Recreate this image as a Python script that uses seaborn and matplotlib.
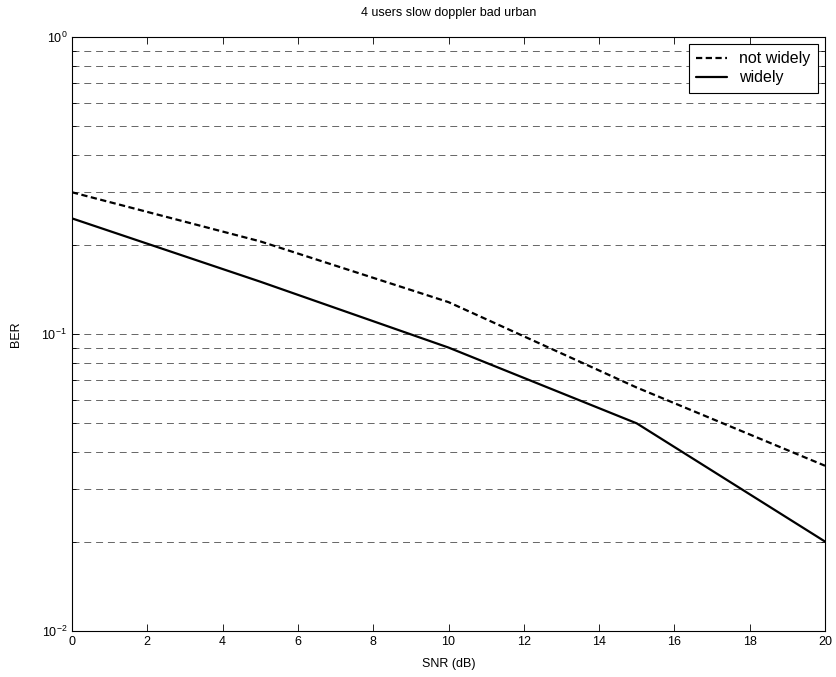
import numpy as np
import pandas as pd
import matplotlib
matplotlib.use("Agg")
import matplotlib.pyplot as plt
import seaborn as sns
from matplotlib.ticker import LogLocator, NullLocator, MultipleLocator

# Data (BER vs SNR)
snr_db = [0, 5, 10, 15, 20]
ber_not_widely = [0.30, 0.205, 0.128, 0.066, 0.036]
ber_widely = [0.245, 0.15, 0.09, 0.05, 0.02]

sns.set_style("ticks")
plt.rcParams['font.family'] = ['Liberation Sans', 'DejaVu Sans']
plt.rcParams['lines.scale_dashes'] = False
plt.rcParams['axes.unicode_minus'] = False
plt.rcParams['text.color'] = 'black'
plt.rcParams['axes.labelcolor'] = 'black'

fig = plt.figure(figsize=(8.37, 6.77), dpi=100)
ax = fig.add_axes([0.086, 0.068, 0.8997, 0.8774])

sns.lineplot(x=snr_db, y=ber_not_widely, ax=ax, color='black', lw=1.6,
             linestyle=(0, (4.5, 2.5)), label='not widely')
sns.lineplot(x=snr_db, y=ber_widely, ax=ax, color='black', lw=1.6,
             label='widely')

ax.set_yscale('log')
ax.set_xlim(0, 20)
ax.set_ylim(1e-2, 1e0)
ax.xaxis.set_major_locator(MultipleLocator(2))
ax.xaxis.set_minor_locator(NullLocator())
ax.yaxis.set_major_locator(LogLocator(base=10, numticks=5))
ax.yaxis.set_minor_locator(LogLocator(base=10, subs=np.arange(2, 10), numticks=20))

# horizontal dashed grid at major and minor positions
ax.yaxis.grid(True, which='both', linestyle=(0, (5, 3.5)), color='0.3', lw=0.6)
ax.xaxis.grid(False)

ax.tick_params(which='both', direction='in', top=True, right=True,
               labelsize=9, colors='black', width=0.6)
ax.tick_params(which='major', length=5)
ax.tick_params(which='minor', length=3)
for s in ax.spines.values():
    s.set_color('black')
    s.set_linewidth(0.8)

ax.set_xlabel('SNR (dB)', fontsize=9, labelpad=7, color='black')
ax.set_ylabel('BER', fontsize=9, labelpad=14, color='black')
ax.set_title('4 users slow doppler bad urban', fontsize=9, pad=15, color='black')

leg = ax.legend(loc='upper right', fontsize=11.5, frameon=True, fancybox=False,
                handlelength=1.9, borderaxespad=0.45, borderpad=0.45,
                labelspacing=0.25, handletextpad=0.8)
leg.get_frame().set_edgecolor('black')
leg.get_frame().set_linewidth(0.8)
leg.get_frame().set_alpha(1)
for t in leg.get_texts():
    t.set_color('black')

fig.savefig('out.png', dpi=100)
